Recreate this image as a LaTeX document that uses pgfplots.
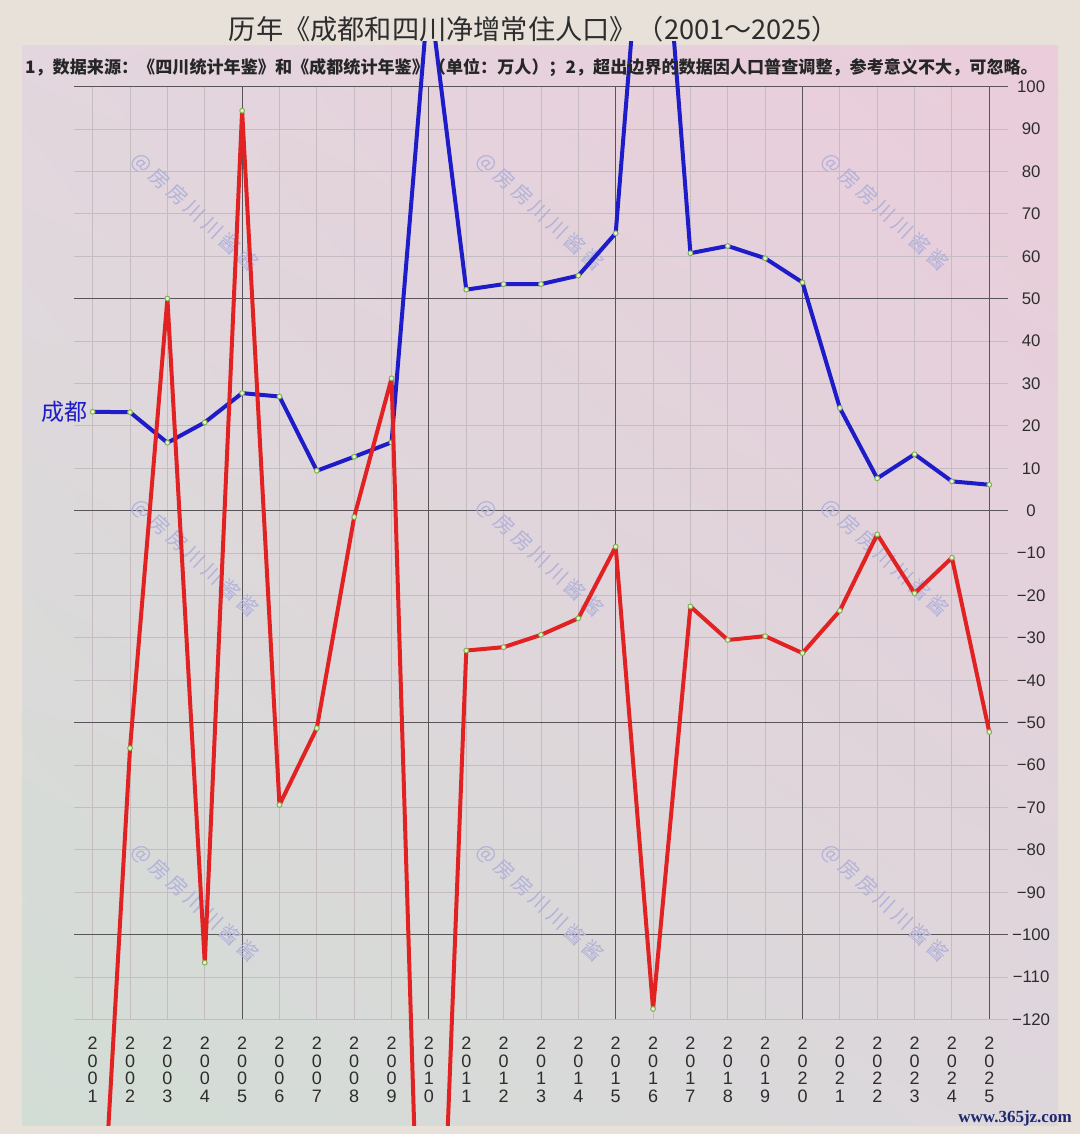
\documentclass[border=0pt]{standalone}
\usepackage{pgfplots}
\pgfplotsset{compat=1.18}
\usetikzlibrary{shadings}
\usepackage{fontspec}
\setmainfont{Liberation Sans}
\newfontfamily\cjk{Noto Sans CJK SC}
\newfontfamily\wwwfont{Liberation Serif}
\definecolor{outerbg}{RGB}{232,225,217}
\definecolor{pUL}{RGB}{227,214,222}
\definecolor{pUR}{RGB}{234,204,218}
\definecolor{pLL}{RGB}{210,221,213}
\definecolor{pLR}{RGB}{221,215,220}
\definecolor{gridlight}{RGB}{196,188,193}
\definecolor{griddark}{RGB}{88,84,88}
\definecolor{cdblue}{RGB}{30,28,200}
\definecolor{scred}{RGB}{226,34,34}
\definecolor{markgreen}{RGB}{130,175,80}
\definecolor{wmark}{RGB}{178,178,218}
\definecolor{ticktext}{RGB}{45,45,45}
\definecolor{wwwcol}{RGB}{30,40,110}
\begin{document}
\begin{tikzpicture}
\useasboundingbox (0,0) rectangle (540pt,567pt);
\begin{scope}[x=0.5pt,y=-0.5pt,shift={(0pt,567pt)}]
\fill[outerbg] (0,0) rectangle (1080,1134);
\shade[upper left=pUL, upper right=pUR, lower left=pLL, lower right=pLR] (22,46) rectangle (1058,1126);
\end{scope}

% grid and tick labels
\begin{axis}[
  at={(37pt,57.25pt)}, anchor=south west, scale only axis,
  width=467.05pt, height=466.4pt,
  xmin=2000.5, xmax=2025.5, ymin=-120, ymax=100,
  axis line style={draw=none}, tick style={draw=none},
  xtick={2001,2002,...,2025},
  ytick={-120,-110,...,100},
  grid=major,
  major grid style={color=gridlight, line width=0.5pt},
  extra x ticks={2005,2010,2015,2020,2025},
  extra y ticks={-100,-50,0,50,100},
  extra x tick labels={}, extra y tick labels={},
  extra tick style={major grid style={color=griddark, line width=0.5pt}},
  yticklabel pos=right,
  yticklabels={−120,−110,−100,−90,−80,−70,−60,−50,−40,−30,−20,−10,0,10,20,30,40,50,60,70,80,90,100},
  yticklabel style={anchor=center, xshift=11.5pt, text=ticktext, font=\fontsize{8.4}{10}\selectfont},
  xticklabels={{2\\0\\0\\1},{2\\0\\0\\2},{2\\0\\0\\3},{2\\0\\0\\4},{2\\0\\0\\5},{2\\0\\0\\6},{2\\0\\0\\7},{2\\0\\0\\8},{2\\0\\0\\9},{2\\0\\1\\0},{2\\0\\1\\1},{2\\0\\1\\2},{2\\0\\1\\3},{2\\0\\1\\4},{2\\0\\1\\5},{2\\0\\1\\6},{2\\0\\1\\7},{2\\0\\1\\8},{2\\0\\1\\9},{2\\0\\2\\0},{2\\0\\2\\1},{2\\0\\2\\2},{2\\0\\2\\3},{2\\0\\2\\4},{2\\0\\2\\5}},
  xticklabel style={align=center, anchor=north, yshift=-5.3pt, text=ticktext, font=\fontsize{9}{8.8}\selectfont},
]
\end{axis}

% watermarks
\begin{scope}[x=0.5pt,y=-0.5pt,shift={(0pt,567pt)}]
\foreach \wx in {195,540,885}{
  \foreach \wy in {212,558,903}{
    \node[rotate=-42.7, text=wmark, font=\cjk\fontsize{10}{10}\selectfont] at (\wx,\wy)
      {@\hspace{2pt}房\hspace{2pt}房\hspace{2pt}川\hspace{2pt}川\hspace{2pt}酱\hspace{2pt}酱};
  }
}
\end{scope}

% data
\begin{axis}[
  at={(11pt,4pt)}, anchor=south west, scale only axis,
  width=518pt, height=542pt,
  xmin=1999.108, xmax=2026.84, ymin=-145.1, ymax=110.5,
  hide axis, clip mode=individual,
]
\addplot[cdblue, line width=2pt, line join=round, mark=*, mark size=1.2pt,
  mark options={draw=markgreen, fill=white!80!markgreen, line width=0.5pt}]
  coordinates {
  (2001,23.3) (2002,23.2) (2003,16.0) (2004,20.8) (2005,27.7) (2006,26.9)
  (2007,9.4) (2008,12.7) (2009,16.1) (2010,123) (2011,52.1) (2012,53.4)
  (2013,53.4) (2014,55.4) (2015,65.4) (2016,175) (2017,60.7) (2018,62.4)
  (2019,59.5) (2020,53.8) (2021,24.2) (2022,7.6) (2023,13.3) (2024,6.9)
  (2025,6.1)};
\addplot[scred, line width=2pt, line join=round, mark=*, mark size=1.2pt,
  mark options={draw=markgreen, fill=white!80!markgreen, line width=0.5pt}]
  coordinates {
  (2001,-210) (2002,-56.0) (2003,50.0) (2004,-106.6) (2005,94.3) (2006,-69.4)
  (2007,-51.3) (2008,-1.5) (2009,31.2) (2010,-260) (2011,-33.0) (2012,-32.2)
  (2013,-29.3) (2014,-25.4) (2015,-8.5) (2016,-117.5) (2017,-22.6) (2018,-30.5)
  (2019,-29.6) (2020,-33.6) (2021,-23.6) (2022,-5.6) (2023,-19.5) (2024,-11.1)
  (2025,-52.2)};
\node[anchor=east, inner sep=2.3pt, text=cdblue, font=\cjk\fontsize{11.5}{12}\selectfont] at (axis cs:2001,23.3) {成都};
\end{axis}

% titles
\begin{scope}[x=0.5pt,y=-0.5pt,shift={(0pt,567pt)}]
\node[text=ticktext, font=\cjk\fontsize{13.6}{14}\selectfont] at (534,29) {历年《成都和四川净增常住人口》（2001～2025）};
\node[text=black!85, font=\cjk\bfseries\fontsize{8.55}{9}\selectfont] at (531.5,68) {1，数据来源：《四川统计年鉴》和《成都统计年鉴》（单位：万人）；2，超出边界的数据因人口普查调整，参考意义不大，可忽略。};
\node[text=wwwcol, font=\wwwfont\bfseries\fontsize{8.5}{9}\selectfont] at (1015,1118) {www.365jz.com};
\end{scope}
\end{tikzpicture}
\end{document}
